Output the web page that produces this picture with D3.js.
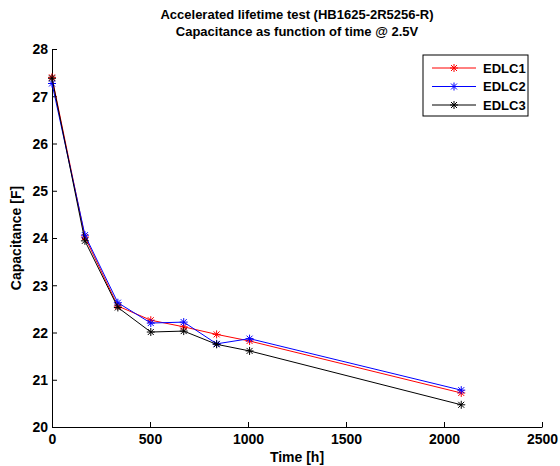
<!DOCTYPE html>
<html>
<head>
<meta charset="utf-8">
<title>Accelerated lifetime test</title>
<script src="https://d3js.org/d3.v7.min.js"></script>
<style>
  body { margin: 0; background: #fff; }
  text { font-family: "Liberation Sans", Arial, sans-serif; fill: #000; }
</style>
</head>
<body>
<script>
// data
var hours = [0, 168, 336, 504, 672, 840, 1008, 2088];
var edlc1 = [27.40, 24.02, 22.56, 22.26, 22.12, 21.96, 21.82, 20.72];
var edlc2 = [27.27, 24.06, 22.63, 22.20, 22.22, 21.76, 21.87, 20.78];
var edlc3 = [27.38, 23.94, 22.53, 22.01, 22.03, 21.75, 21.61, 20.47];
var seriesNames = ["EDLC1", "EDLC2", "EDLC3"];
var seriesColors = ["#ff0000", "#0000ff", "#000000"];
var xTicks = [0, 500, 1000, 1500, 2000, 2500];
var yTicks = [20, 21, 22, 23, 24, 25, 26, 27, 28];

var W = 560, H = 466;
var margin = { left: 52, right: 18, top: 49, bottom: 39 };

var svg = d3.select("body").append("svg")
    .attr("width", W)
    .attr("height", H);

var x = d3.scaleLinear().domain([0, 2500]).range([margin.left, W - margin.right]);
var y = d3.scaleLinear().domain([20, 28]).range([H - margin.bottom, margin.top]);

// axes (matlab style, ticks pointing inward)
var xAxis = d3.axisBottom(x).tickValues(xTicks).tickFormat(d3.format("d"))
    .tickSizeInner(-5).tickSizeOuter(0).tickPadding(4);
var yAxis = d3.axisLeft(y).tickValues(yTicks).tickFormat(d3.format("d"))
    .tickSizeInner(-5).tickSizeOuter(0).tickPadding(4);

var gx = svg.append("g")
    .attr("transform", "translate(0," + (H - margin.bottom) + ")")
    .call(xAxis);
var gy = svg.append("g")
    .attr("transform", "translate(" + margin.left + ",0)")
    .call(yAxis);

[gx, gy].forEach(function (g) {
  g.selectAll("text")
    .style("font-size", "14px")
    .style("font-weight", "bold")
    .attr("fill", "#000");
  g.selectAll("line, path").attr("stroke", "#000");
});
gx.selectAll("text").attr("dy", "0.9em");
gy.selectAll("text").attr("dy", "0.35em");

// lines + asterisk markers
var line = d3.line()
    .x(function (d, i) { return x(hours[i]); })
    .y(function (d) { return y(d); });

function star(g, cx, cy, color) {
  var r = 4;
  var s = g.append("g").attr("transform", "translate(" + cx + "," + cy + ")")
      .attr("stroke", color).attr("stroke-width", 1);
  s.append("line").attr("x1", -r).attr("x2", r).attr("y1", 0).attr("y2", 0);
  s.append("line").attr("x1", 0).attr("x2", 0).attr("y1", -r).attr("y2", r);
  var q = r * 0.75;
  s.append("line").attr("x1", -q).attr("x2", q).attr("y1", -q).attr("y2", q);
  s.append("line").attr("x1", -q).attr("x2", q).attr("y1", q).attr("y2", -q);
}

var allSeries = [edlc1, edlc2, edlc3];
var plot = svg.append("g");
allSeries.forEach(function (vals, k) {
  plot.append("path")
    .attr("d", line(vals))
    .attr("fill", "none")
    .attr("stroke", seriesColors[k])
    .attr("stroke-width", 1);
  vals.forEach(function (v, i) {
    star(plot, x(hours[i]), y(v), seriesColors[k]);
  });
});

// titles
var cx = (margin.left + W - margin.right) / 2;
svg.append("text")
    .attr("x", cx).attr("y", 19)
    .attr("text-anchor", "middle")
    .style("font-size", "13px")
    .style("font-weight", "bold")
    .text("Accelerated lifetime test (HB1625-2R5256-R)");
svg.append("text")
    .attr("x", cx).attr("y", 36)
    .attr("text-anchor", "middle")
    .style("font-size", "13px")
    .style("font-weight", "bold")
    .text("Capacitance as function of time @ 2.5V");

svg.append("text")
    .attr("x", cx).attr("y", 462)
    .attr("text-anchor", "middle")
    .style("font-size", "14px")
    .style("font-weight", "bold")
    .text("Time [h]");

svg.append("text")
    .attr("transform", "translate(21," + ((margin.top + H - margin.bottom) / 2) + ") rotate(-90)")
    .attr("text-anchor", "middle")
    .style("font-size", "14px")
    .style("font-weight", "bold")
    .text("Capacitance [F]");

// legend
var leg = svg.append("g").attr("transform", "translate(423,55)");
leg.append("rect")
    .attr("width", 105).attr("height", 61)
    .attr("fill", "#fff").attr("stroke", "#000").attr("stroke-width", 1);
seriesNames.forEach(function (name, k) {
  var ly = 13 + k * 18.5;
  leg.append("line")
    .attr("x1", 9).attr("x2", 53).attr("y1", ly).attr("y2", ly)
    .attr("stroke", seriesColors[k]).attr("stroke-width", 1);
  star(leg, 31, ly, seriesColors[k]);
  leg.append("text")
    .attr("x", 60).attr("y", ly).attr("dy", "0.35em")
    .style("font-size", "13px")
    .style("font-weight", "bold")
    .text(name);
});
</script>
</body>
</html>
